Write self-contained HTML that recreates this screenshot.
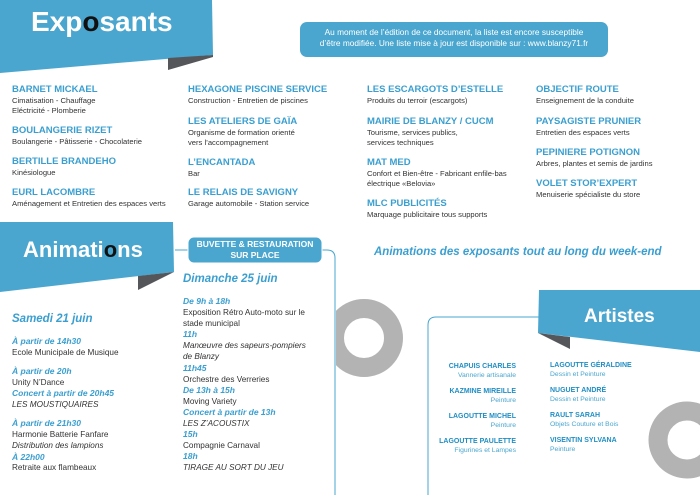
<!DOCTYPE html>
<html><head><meta charset="utf-8"><style>
*{margin:0;padding:0;box-sizing:border-box}
body{width:700px;height:495px;background:#fff;position:relative;overflow:hidden;font-family:"Liberation Sans",sans-serif;color:#333}
.a{position:absolute;white-space:nowrap}
.t{color:#3a9fd0;font-weight:bold;font-size:9.5px;line-height:12px}
.d{font-size:7.6px;line-height:10px;color:#333}
.it{color:#3a9fd0;font-weight:bold;font-style:italic}
.h{font-size:8.5px;line-height:10.8px}
.ev{font-size:8.2px;line-height:11.3px}
.an{color:#1f8ec4;font-weight:bold;font-size:7px;line-height:9px}
.ad{color:#4aa6cf;font-size:6.8px;line-height:9px}
</style></head><body>
<svg class="a" style="left:0;top:0" width="700" height="495">
<defs><clipPath id="c"><rect x="336" y="0" width="400" height="495"/></clipPath></defs>
<polygon points="0,0 212,0 213,55 0,73" fill="#4aa6cf"/>
<polygon points="168,58 213,55 213,57 168,70" fill="#55565a"/>
<polygon points="0,222 173,222 174,272 0,292" fill="#4aa6cf"/>
<polygon points="138,276 174,272 138,290" fill="#55565a"/>
<circle cx="364" cy="338" r="29.5" fill="none" stroke="#b3b3b3" stroke-width="19" clip-path="url(#c)"/>
<circle cx="687" cy="440" r="29" fill="none" stroke="#b3b3b3" stroke-width="19"/>
<path d="M175,250 H188 M322,250 H327 Q335,250 335,258 V495" fill="none" stroke="#4aa6cf" stroke-width="1"/>
<path d="M428,495 V325 Q428,317 436,317 H545" fill="none" stroke="#4aa6cf" stroke-width="1"/>
<polygon points="539,290 700,290 700,352 538,333" fill="#4aa6cf"/>
<polygon points="538,333 570,337 570,349" fill="#55565a"/>
<rect x="300" y="22" width="308" height="35" rx="7" fill="#4aa6cf"/>
<rect x="188" y="237" width="134" height="26" rx="6" fill="#4aa6cf" stroke="#fff" stroke-width="1"/>
</svg>
<div class="a" style="left:31px;top:6px;font-size:28px;font-weight:bold;color:#fff">Exp<span style="color:#111">o</span>sants</div>
<div class="a" style="left:300px;top:27px;width:308px;text-align:center;color:#fff;font-size:8.3px;line-height:11px">Au moment de l’édition de ce document, la liste est encore susceptible<br>d’être modifiée. Une liste mise à jour est disponible sur : www.blanzy71.fr</div>

<div class="a" style="left:12px;top:84px"><div class="t">BARNET MICKAEL</div><div class="d">Cimatisation - Chauffage<br>Eléctricité - Plomberie</div></div>
<div class="a" style="left:12px;top:125px"><div class="t">BOULANGERIE RIZET</div><div class="d">Boulangerie - Pâtisserie - Chocolaterie</div></div>
<div class="a" style="left:12px;top:156px"><div class="t">BERTILLE BRANDEHO</div><div class="d">Kinésiologue</div></div>
<div class="a" style="left:12px;top:187px"><div class="t">EURL LACOMBRE</div><div class="d">Aménagement et Entretien des espaces verts</div></div>

<div class="a" style="left:188px;top:84px"><div class="t">HEXAGONE PISCINE SERVICE</div><div class="d">Construction - Entretien de piscines</div></div>
<div class="a" style="left:188px;top:116px"><div class="t">LES ATELIERS DE GAÏA</div><div class="d">Organisme de formation orienté<br>vers l’accompagnement</div></div>
<div class="a" style="left:188px;top:157px"><div class="t">L’ENCANTADA</div><div class="d">Bar</div></div>
<div class="a" style="left:188px;top:187px"><div class="t">LE RELAIS DE SAVIGNY</div><div class="d">Garage automobile - Station service</div></div>

<div class="a" style="left:367px;top:84px"><div class="t">LES ESCARGOTS D’ESTELLE</div><div class="d">Produits du terroir (escargots)</div></div>
<div class="a" style="left:367px;top:116px"><div class="t">MAIRIE DE BLANZY / CUCM</div><div class="d">Tourisme, services publics,<br>services techniques</div></div>
<div class="a" style="left:367px;top:157px"><div class="t">MAT MED</div><div class="d">Confort et Bien-être - Fabricant enfile-bas<br>électrique «Belovia»</div></div>
<div class="a" style="left:367px;top:198px"><div class="t">MLC PUBLICITÉS</div><div class="d">Marquage publicitaire tous supports</div></div>

<div class="a" style="left:536px;top:84px"><div class="t">OBJECTIF ROUTE</div><div class="d">Enseignement de la conduite</div></div>
<div class="a" style="left:536px;top:116px"><div class="t">PAYSAGISTE PRUNIER</div><div class="d">Entretien des espaces verts</div></div>
<div class="a" style="left:536px;top:147px"><div class="t">PEPINIERE POTIGNON</div><div class="d">Arbres, plantes et semis de jardins</div></div>
<div class="a" style="left:536px;top:178px"><div class="t">VOLET STOR’EXPERT</div><div class="d">Menuiserie spécialiste du store</div></div>

<div class="a" style="left:23px;top:237px;font-size:22px;font-weight:bold;color:#fff">Animati<span style="color:#111">o</span>ns</div>
<div class="a" style="left:188px;top:239px;width:134px;text-align:center;color:#fff;font-weight:bold;font-size:8.5px;line-height:11px">BUVETTE &amp; RESTAURATION<br>SUR PLACE</div>
<div class="a it" style="left:374px;top:246px;font-size:11.5px">Animations des exposants tout au long du week-end</div>

<div class="a" style="left:12px;top:313px"><div class="it" style="font-size:11.5px">Samedi 21 juin</div></div>
<div class="a ev" style="left:12px;top:336px">
<div class="it h">À partir de 14h30</div><div>Ecole Municipale de Musique</div>
<div style="height:8px"></div>
<div class="it h">À partir de 20h</div><div>Unity N’Dance</div>
<div class="it h">Concert à partir de 20h45</div><div style="font-style:italic">LES MOUSTIQUAIRES</div>
<div style="height:8px"></div>
<div class="it h">À partir de 21h30</div><div>Harmonie Batterie Fanfare</div>
<div style="font-style:italic">Distribution des lampions</div>
<div class="it h">À 22h00</div><div>Retraite aux flambeaux</div>
</div>

<div class="a" style="left:183px;top:273px"><div class="it" style="font-size:11.5px">Dimanche 25 juin</div></div>
<div class="a ev" style="left:183px;top:296px">
<div class="it h">De 9h à 18h</div><div>Exposition Rétro Auto-moto sur le<br>stade municipal</div>
<div class="it h">11h</div><div style="font-style:italic">Manœuvre des sapeurs-pompiers<br>de Blanzy</div>
<div class="it h">11h45</div><div>Orchestre des Verreries</div>
<div class="it h">De 13h à 15h</div><div>Moving Variety</div>
<div class="it h">Concert à partir de 13h</div><div style="font-style:italic">LES Z’ACOUSTIX</div>
<div class="it h">15h</div><div>Compagnie Carnaval</div>
<div class="it h">18h</div><div style="font-style:italic">TIRAGE AU SORT DU JEU</div>
</div>

<div class="a" style="left:584px;top:306px;font-size:19px;font-weight:bold;color:#fff">Artistes</div>
<div class="a" style="left:416px;top:362px;width:100px;text-align:right">
<div class="an">CHAPUIS CHARLES</div><div class="ad">Vannerie artisanale</div>
<div style="height:7px"></div>
<div class="an">KAZMINE MIREILLE</div><div class="ad">Peinture</div>
<div style="height:7px"></div>
<div class="an">LAGOUTTE MICHEL</div><div class="ad">Peinture</div>
<div style="height:7px"></div>
<div class="an">LAGOUTTE PAULETTE</div><div class="ad">Figurines et Lampes</div>
</div>
<div class="a" style="left:550px;top:361px">
<div class="an">LAGOUTTE GÉRALDINE</div><div class="ad">Dessin et Peinture</div>
<div style="height:7px"></div>
<div class="an">NUGUET ANDRÉ</div><div class="ad">Dessin et Peinture</div>
<div style="height:7px"></div>
<div class="an">RAULT SARAH</div><div class="ad">Objets Couture et Bois</div>
<div style="height:7px"></div>
<div class="an">VISENTIN SYLVANA</div><div class="ad">Peinture</div>
</div>
</body></html>
